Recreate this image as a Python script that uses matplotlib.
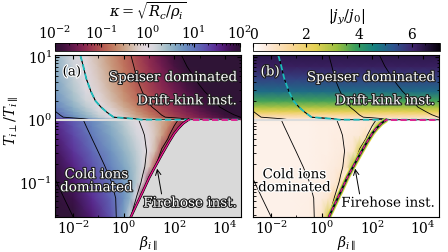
import numpy as np
import matplotlib
matplotlib.use("Agg")
import matplotlib.pyplot as plt
from matplotlib.colors import Normalize, LogNorm, LinearSegmentedColormap
from matplotlib.cm import ScalarMappable
import matplotlib.patheffects as pe

plt.rcParams['font.family'] = ['DejaVu Serif']
plt.rcParams['mathtext.fontset'] = 'dejavuserif'
plt.rcParams['font.size'] = 10

# ---------------- data (log10 units) ----------------
# axis limits (log10 beta, log10 T_perp/T_par)
lb_min, lb_max = -2.72, 4.64
lt_min, lt_max = -1.55, 1.03

# upper region (T_perp > T_par): grid nodes
lb_up = [-2.72, -2.0, -1.5, -1.0, -0.5, 0.0, 0.5, 1.0, 1.5, 2.0, 2.5, 3.0, 3.5, 4.0, 4.64]
lt_up = [0.0, 0.015, 0.04, 0.08, 0.13, 0.2, 0.3, 0.45, 0.65, 0.85, 1.03]
logk_up = [
    [1.71, 1.35, 1.10, 0.85, 0.60, 0.35, 0.10, -0.15, -0.40, -0.65, -0.90, -1.10, -1.27, -1.43, -1.65],
    [1.56, 1.20, 0.95, 0.70, 0.45, 0.20, -0.05, -0.30, -0.55, -0.80, -1.03, -1.20, -1.37, -1.53, -1.75],
    [1.16, 0.80, 0.55, 0.30, 0.05, -0.20, -0.45, -0.70, -0.95, -1.13, -1.30, -1.47, -1.63, -1.80, -2.01],
    [1.09, 0.73, 0.48, 0.23, -0.02, -0.27, -0.52, -0.77, -1.01, -1.19, -1.36, -1.53, -1.70, -1.88, -2.10],
    [1.01, 0.65, 0.40, 0.15, -0.10, -0.35, -0.60, -0.85, -1.07, -1.25, -1.43, -1.61, -1.79, -1.96, -2.19],
    [0.91, 0.55, 0.30, 0.05, -0.20, -0.45, -0.70, -0.95, -1.15, -1.33, -1.52, -1.70, -1.89, -2.07, -2.31],
    [0.80, 0.44, 0.19, -0.06, -0.31, -0.56, -0.81, -1.04, -1.23, -1.41, -1.60, -1.79, -1.97, -2.16, -2.40],
    [0.71, 0.35, 0.10, -0.15, -0.40, -0.65, -0.90, -1.12, -1.32, -1.52, -1.72, -1.92, -2.12, -2.32, -2.58],
    [0.62, 0.26, 0.01, -0.24, -0.49, -0.74, -0.99, -1.21, -1.43, -1.64, -1.86, -2.08, -2.30, -2.51, -2.79],
    [0.56, 0.20, -0.05, -0.30, -0.55, -0.80, -1.05, -1.29, -1.52, -1.76, -2.00, -2.24, -2.48, -2.71, -3.02],
    [0.50, 0.14, -0.11, -0.36, -0.61, -0.86, -1.11, -1.36, -1.61, -1.86, -2.11, -2.36, -2.61, -2.86, -3.18],
]

# lower region (T_perp < T_par)
lb_lo = [-2.72, -2.0, -1.25, -0.5, 0.0, 0.25, 0.5, 0.75, 1.0, 1.25, 1.5, 1.75, 2.0, 2.25, 2.5, 2.75, 3.5, 4.64]
lt_lo = [-1.55, -1.25, -1.0, -0.75, -0.5, -0.25, -0.1, 0.0]
logk_lo = [
    [2.32, 2.00, 1.64, 1.22, 0.68, 0.20, -1.4, -1.4, -1.4, -1.4, -1.4, -1.4, -1.4, -1.4, -1.4, -1.4, -1.4, -1.4],
    [2.16, 1.84, 1.49, 1.12, 0.79, 0.53, -0.02, -1.4, -1.4, -1.4, -1.4, -1.4, -1.4, -1.4, -1.4, -1.4, -1.4, -1.4],
    [2.03, 1.71, 1.36, 1.01, 0.74, 0.56, 0.32, -0.12, -1.4, -1.4, -1.4, -1.4, -1.4, -1.4, -1.4, -1.4, -1.4, -1.4],
    [1.90, 1.57, 1.24, 0.89, 0.64, 0.50, 0.33, 0.13, -0.26, -1.0, -1.4, -1.4, -1.4, -1.4, -1.4, -1.4, -1.4, -1.4],
    [1.77, 1.44, 1.10, 0.77, 0.52, 0.40, 0.27, 0.11, -0.07, -0.36, -1.08, -1.4, -1.4, -1.4, -1.4, -1.4, -1.4, -1.4],
    [1.63, 1.31, 0.97, 0.63, 0.40, 0.29, 0.16, 0.04, -0.10, -0.27, -0.50, -0.90, -1.4, -1.4, -1.4, -1.4, -1.4, -1.4],
    [1.55, 1.23, 0.89, 0.55, 0.33, 0.21, 0.09, -0.03, -0.15, -0.29, -0.46, -0.66, -1.01, -1.4, -1.4, -1.4, -1.4, -1.4],
    [1.50, 1.18, 0.84, 0.50, 0.28, 0.16, 0.04, -0.07, -0.19, -0.32, -0.45, -0.61, -0.80, -1.12, -1.4, -1.4, -1.4, -1.4],
]

# |j_y/j_0| : upper region profile (per lt_up row) and lower region grid
jy_up_profile = [0.4, 0.6, 1.0, 1.5, 2.3, 3.0, 3.8, 4.9, 5.6, 6.2, 6.4]
jy_lo = [
    [0.35, 0.35, 0.35, 0.40, 0.80, 2.50, 0, 0, 0, 0, 0, 0, 0, 0, 0, 0, 0, 0],
    [0.35, 0.35, 0.35, 0.40, 0.50, 0.70, 1.40, 0, 0, 0, 0, 0, 0, 0, 0, 0, 0, 0],
    [0.35, 0.35, 0.35, 0.35, 0.40, 0.50, 0.60, 1.10, 0, 0, 0, 0, 0, 0, 0, 0, 0, 0],
    [0.35, 0.35, 0.35, 0.35, 0.40, 0.45, 0.50, 0.60, 1.00, 3.00, 0, 0, 0, 0, 0, 0, 0, 0],
    [0.35, 0.35, 0.35, 0.35, 0.40, 0.40, 0.45, 0.50, 0.55, 0.80, 2.50, 0, 0, 0, 0, 0, 0, 0],
    [0.35, 0.35, 0.35, 0.35, 0.40, 0.40, 0.45, 0.45, 0.50, 0.55, 0.60, 1.00, 0, 0, 0, 0, 0, 0],
    [0.35, 0.35, 0.35, 0.35, 0.40, 0.40, 0.40, 0.45, 0.45, 0.50, 0.55, 0.60, 0.80, 3.00, 0, 0, 0, 0],
    [0.40, 0.40, 0.40, 0.40, 0.45, 0.45, 0.45, 0.45, 0.50, 0.50, 0.55, 0.60, 0.70, 0.90, 3.00, 0, 0, 0],
]
jy_max = 7.07

# firehose threshold curve
fh_lb = [0.28, 0.5, 0.75, 1.0, 1.2, 1.5, 1.8, 2.0, 2.16, 2.35, 2.56]
fh_lt = [-1.55, -1.36, -1.15, -0.93, -0.78, -0.56, -0.35, -0.22, -0.14, -0.06, 0.0]

# ---------------- styles ----------------
cmap_a = plt.get_cmap('twilight_shifted_r')
norm_a = Normalize(-2, 2)
cmap_b = LinearSegmentedColormap.from_list('jy', [
    (0.00, (1.00, 1.00, 1.00)),
    (0.07, (0.99, 0.92, 0.87)),
    (0.20, (0.98, 0.84, 0.60)),
    (0.33, (0.90, 0.82, 0.33)),
    (0.45, (0.60, 0.75, 0.25)),
    (0.55, (0.22, 0.62, 0.36)),
    (0.65, (0.08, 0.50, 0.50)),
    (0.75, (0.17, 0.33, 0.56)),
    (0.86, (0.25, 0.14, 0.42)),
    (1.00, (0.02, 0.00, 0.04)),
])
norm_b = Normalize(0, jy_max)
cyan = '#1cbcbc'
magenta = '#e8168c'
white_txt = dict(color='white', path_effects=[pe.withStroke(linewidth=1.6, foreground='#202020')])
black_txt = dict(color='black', path_effects=[pe.withStroke(linewidth=1.6, foreground='white')])
TXT = 9.7

fig = plt.figure(figsize=(4.48, 2.52), dpi=100)
W, H = 448.0, 252.0
ax_a = fig.add_axes([55 / W, 1 - 217 / H, 186 / W, 162 / H])
ax_b = fig.add_axes([253 / W, 1 - 217 / H, 186 / W, 162 / H])
cax_a = fig.add_axes([55 / W, 1 - 51 / H, 185 / W, 8 / H])
cax_b = fig.add_axes([253 / W, 1 - 51 / H, 187 / W, 8 / H])

LBu, LTu = np.meshgrid(lb_up, lt_up)
LBl, LTl = np.meshgrid(lb_lo, lt_lo)
Ku = np.array(logk_up)
Kl = np.array(logk_lo)
Ju = np.tile(np.array(jy_up_profile)[:, None], (1, len(lb_up)))
Jl = np.array(jy_lo)

fhx = np.array(fh_lb)
fhy = np.array(fh_lt)


def draw_panel(ax, field_u, field_l, cmap, norm, panel):
    ax.pcolormesh(LBu, LTu, field_u, shading='gouraud', cmap=cmap, norm=norm, zorder=1)
    ax.pcolormesh(LBl, LTl, field_l, shading='gouraud', cmap=cmap, norm=norm, zorder=1)
    cs_u = ax.contour(LBu, LTu, Ku, levels=[-2, -1, 0, 1], colors='k',
                      linewidths=0.6, linestyles='solid', negative_linestyles='solid',
                      zorder=2)
    ax.contour(LBl, LTl, Kl, levels=[-1, 0, 1, 2], colors='k',
               linewidths=0.6, linestyles='solid', negative_linestyles='solid', zorder=2)
    # firehose-unstable region
    fill_col = '#d9d9d9' if panel == 'a' else 'white'
    ax.fill_between(np.append(fhx, lb_max), np.append(fhy, 0.0), lt_min,
                    color=fill_col, lw=0, zorder=3)
    # T_perp = T_par line
    ax.plot([lb_min, lb_max], [0, 0], color='#dcdcdc', lw=1.5, zorder=4)
    # cyan boundary: kappa = 1 in upper region, then along T=1
    segs = cs_u.allsegs[2]
    seg = max(segs, key=len)
    seg = seg[np.argsort(seg[:, 0])]
    cx = np.append(seg[:, 0], lb_max)
    cy = np.append(seg[:, 1], 0.0)
    ax.plot(cx, cy, color='k', lw=0.6, zorder=4)
    ax.plot(cx, cy, color=cyan, lw=1.3, linestyle=(0, (3.5, 1.8)), zorder=5)
    # firehose threshold
    if panel == 'b':
        ax.plot(fhx, fhy, color='#e3cf3a', lw=3.6, zorder=5, solid_capstyle='butt')
        ax.plot(fhx, fhy, color='#3d9e5c', lw=2.2, zorder=5, solid_capstyle='butt')
        ax.plot(fhx, fhy, color='k', lw=1.2, zorder=6)
        ax.plot(fhx, fhy, color=magenta, lw=1.0, linestyle=(0, (3, 2)), zorder=7)
    else:
        ax.plot(fhx, fhy, color='k', lw=1.8, zorder=6)
        ax.plot(fhx, fhy, color=magenta, lw=1.0, zorder=7)
    ax.plot([fhx[-1], lb_max], [0, 0], color=magenta, lw=1.3,
            linestyle=(2.6, (3.5, 1.8)), zorder=6)

    ax.set_xlim(lb_min, lb_max)
    ax.set_ylim(lt_min, lt_max)
    # log-style ticks
    ax.set_xticks([-2, 0, 2, 4])
    ax.set_xticklabels([r'$10^{-2}$', r'$10^{0}$', r'$10^{2}$', r'$10^{4}$'])
    ax.set_xticks([-1, 1, 3], minor=True)
    ax.set_yticks([-1, 0, 1])
    yminor = [np.log10(k) + d for d in (-2, -1, 0) for k in range(2, 10)]
    yminor = [v for v in yminor if lt_min <= v <= lt_max]
    ax.set_yticks(yminor, minor=True)
    if panel == 'a':
        ax.set_yticklabels([r'$10^{-1}$', r'$10^{0}$', r'$10^{1}$'])
        ax.set_ylabel(r'$T_{i\perp}/T_{i\parallel}$', fontsize=10.5)
        ax.yaxis.set_label_coords(-0.19, 0.59)
    else:
        ax.set_yticklabels([])
    ax.tick_params(which='both', direction='in', top=True, right=True, labelsize=10, pad=2)
    ax.tick_params(which='major', length=3)
    ax.tick_params(which='minor', length=1.8)
    ax.set_xlabel(r'$\beta_{i\parallel}$', labelpad=-2, fontsize=10)
    for s in ax.spines.values():
        s.set_zorder(10)

    up_style = white_txt
    lo_style = white_txt if panel == 'a' else black_txt
    tag_style = black_txt if panel == 'a' else white_txt
    ax.text(-2.42, 0.76, '(%s)' % panel, fontsize=TXT, va='center', ha='left',
            zorder=11, **tag_style)
    ax.text(4.5, 0.67, 'Speiser dominated', fontsize=TXT, ha='right', va='center',
            zorder=11, **up_style)
    ax.text(4.5, 0.30, 'Drift-kink inst.', fontsize=TXT, ha='right', va='center',
            zorder=11, **up_style)
    ax.text(-1.08, -0.98, 'Cold ions\ndominated', fontsize=TXT, ha='center', va='center',
            linespacing=1.0, zorder=11, **lo_style)
    ax.annotate('Firehose inst.', xy=(1.32, -0.78), xytext=(4.5, -1.33),
                ha='right', va='center', fontsize=TXT, zorder=11, **lo_style,
                arrowprops=dict(arrowstyle='->', color='k', lw=0.7,
                                shrinkA=0, shrinkB=0,
                                relpos=(0.2, 1.0)))


draw_panel(ax_a, Ku, Kl, cmap_a, norm_a, 'a')
draw_panel(ax_b, Ju, Jl, cmap_b, norm_b, 'b')

# colorbars
cb_a = fig.colorbar(ScalarMappable(norm=LogNorm(1e-2, 1e2), cmap=cmap_a), cax=cax_a,
                    orientation='horizontal')
cb_b = fig.colorbar(ScalarMappable(norm=norm_b, cmap=cmap_b), cax=cax_b,
                    orientation='horizontal')
cb_b.set_ticks([0, 2, 4, 6])
cax_b.set_xticks(np.arange(0, 7.01, 0.5), minor=True)
for cax, lab in ((cax_a, r'$\kappa=\sqrt{R_c/\rho_i}$'), (cax_b, r'$|j_y/j_0|$')):
    cax.xaxis.set_ticks_position('top')
    cax.xaxis.set_label_position('top')
    cax.tick_params(which='both', direction='in', labelsize=10, pad=1)
    cax.tick_params(which='major', length=3)
    cax.tick_params(which='minor', length=1.5)
    cax.set_xlabel(lab, labelpad=5, fontsize=10.5)
    cb = cb_a if cax is cax_a else cb_b
    cb.outline.set_linewidth(0.6)

fig.savefig('out.png', dpi=100)
